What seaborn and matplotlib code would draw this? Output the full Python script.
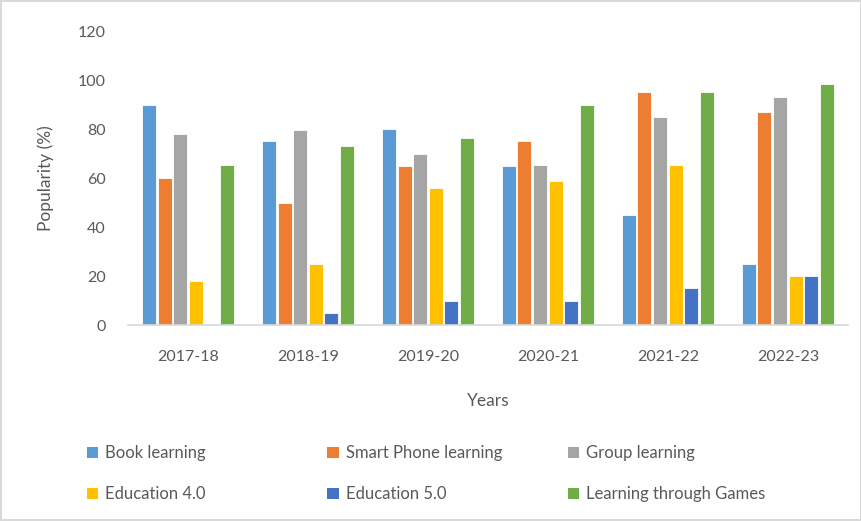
import pandas as pd
import matplotlib.pyplot as plt
import seaborn as sns
from matplotlib.patches import Patch

years = ['2017-18', '2018-19', '2019-20', '2020-21', '2021-22', '2022-23']
methods = ['Book learning', 'Smart Phone learning', 'Group learning',
           'Education 4.0', 'Education 5.0', 'Learning through Games']
book = [90, 75, 80, 65, 45, 25]
phone = [60, 50, 65, 75, 95, 87]
group = [78, 79.5, 70, 65.5, 85, 93]
edu4 = [18, 25, 56, 59, 65.5, 20]
edu5 = [0, 5, 10, 10, 15, 20]
games = [65.5, 73, 76.5, 90, 95, 98.5]
colors = ['#5B9BD5', '#ED7D31', '#A5A5A5', '#FFC000', '#4472C4', '#70AD47']

df = pd.DataFrame({'Year': years, methods[0]: book, methods[1]: phone,
                   methods[2]: group, methods[3]: edu4, methods[4]: edu5,
                   methods[5]: games})
long = df.melt(id_vars='Year', var_name='Method', value_name='Popularity')

sns.set_style('white')
plt.rcParams['font.family'] = ['Lato', 'DejaVu Sans']
text_col = '#595959'

fig = plt.figure(figsize=(8.62, 5.21), dpi=100)
fig.patch.set_edgecolor('#D9D9D9')
fig.patch.set_linewidth(1.5)
ax = fig.add_axes([0.1485, 0.376, 0.835, 0.564])

sns.barplot(data=long, x='Year', y='Popularity', hue='Method',
            hue_order=methods, palette=colors, width=0.78, gap=0.1,
            ax=ax, legend=False, saturation=1, edgecolor='white', linewidth=0.6)

ax.set_ylim(0, 120)
ax.set_yticks(range(0, 121, 20))
ax.set_xlim(-0.5, 5.5)
ax.tick_params(axis='both', length=0, labelsize=11.5, colors=text_col)
ax.tick_params(axis='x', pad=18)
ax.tick_params(axis='y', pad=16)
for s in ['top', 'right', 'left']:
    ax.spines[s].set_visible(False)
ax.spines['bottom'].set_color('#D9D9D9')
ax.spines['bottom'].set_linewidth(1.2)
ax.set_xlabel('Years', fontsize=12.5, color=text_col, labelpad=21)
ax.set_ylabel('Popularity (%)', fontsize=12.5, color=text_col, labelpad=17)

# legend: three columns placed like the original (row-wise order)
handles = [Patch(facecolor=c, edgecolor='none') for c in colors]
for j, x in enumerate([0.093, 0.372, 0.651]):
    fig.legend([handles[j], handles[j + 3]], [methods[j], methods[j + 3]],
               loc='upper left', bbox_to_anchor=(x, 0.158), frameon=False,
               fontsize=12, handlelength=0.7, handleheight=0.7,
               handletextpad=0.4, labelspacing=1.5, labelcolor=text_col,
               borderaxespad=0)

fig.savefig('out.png', dpi=100)
